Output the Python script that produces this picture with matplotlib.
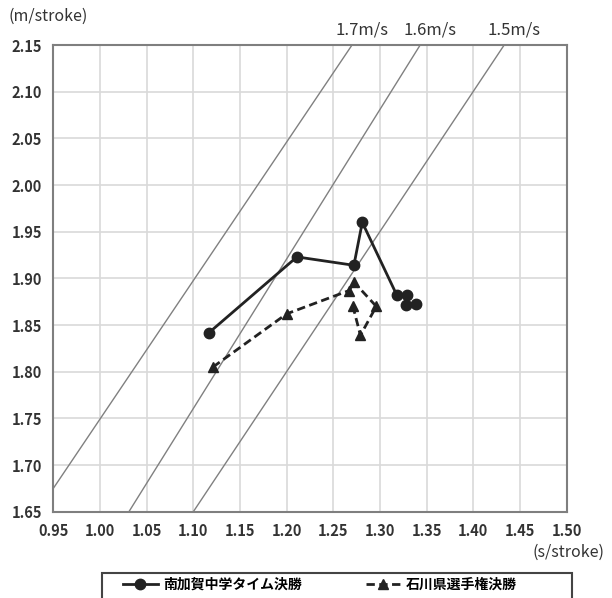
import numpy as np
import matplotlib
matplotlib.use("Agg")
import matplotlib.pyplot as plt
from matplotlib.patches import Rectangle

plt.rcParams['font.family'] = ['Noto Sans CJK JP', 'DejaVu Sans']

# stroke time (s/stroke) vs stroke length (m/stroke)
local_x = [1.117, 1.211, 1.272, 1.281, 1.318, 1.329, 1.328, 1.339]
local_y = [1.842, 1.923, 1.914, 1.960, 1.882, 1.882, 1.871, 1.873]
pref_x = [1.121, 1.200, 1.267, 1.272, 1.296, 1.279, 1.271]
pref_y = [1.805, 1.862, 1.887, 1.896, 1.870, 1.839, 1.870]

# speed reference lines (end points as drawn)
speed_labels = ['1.7m/s', '1.6m/s', '1.5m/s']
speed_x = [[0.95, 1.270], [1.031, 1.343], [1.100, 1.433]]
speed_y = [[1.675, 2.15], [1.65, 2.15], [1.65, 2.15]]

x_ticks = np.arange(0.95, 1.501, 0.05)
y_ticks = np.arange(1.65, 2.151, 0.05)

fig = plt.figure(figsize=(6.12, 5.98), dpi=100)
ax = fig.add_axes([0.0871, 0.1443, 0.8389, 0.7804])

for sx, sy in zip(speed_x, speed_y):
    ax.plot(sx, sy, color='#808080', lw=1.0, zorder=2)
for lab, sx in zip(speed_labels, speed_x):
    ax.text(sx[1] + 0.011, 2.166, lab, fontsize=12, ha='center', va='center',
            color='#333333', clip_on=False)

ax.plot(local_x, local_y, '-', color='#222222', lw=2, marker='o', ms=7.5,
        label='南加賀中学タイム決勝', zorder=4)
ax.plot(pref_x, pref_y, '--', color='#222222', lw=2, marker='^', ms=7.5,
        dashes=(3, 1.6), label='石川県選手権決勝', zorder=4)

ax.set_xlim(0.95, 1.50)
ax.set_ylim(1.65, 2.15)
ax.set_xticks(x_ticks)
ax.set_yticks(y_ticks)
ax.set_xticklabels(['%.2f' % v for v in x_ticks], fontweight='bold', fontsize=10.5,
                   color='#333333')
ax.set_yticklabels(['%.2f' % v for v in y_ticks], fontweight='bold', fontsize=10.5,
                   color='#333333')
ax.tick_params(length=0, pad=8)
ax.grid(color='#d9d9d9', lw=1.2)
ax.set_axisbelow(True)
for s in ax.spines.values():
    s.set_color('#7f7f7f')
    s.set_linewidth(1.5)

fig.text(8 / 612, 1 - 16 / 598, '(m/stroke)', fontsize=11.5, va='center',
         color='#333333')
fig.text(605 / 612, 1 - 552 / 598, '(s/stroke)', fontsize=11.5, va='center',
         ha='right', color='#333333')

# legend box runs off the bottom edge in the original
fig.patches.append(Rectangle((102 / 612, -0.02), 470 / 612, 1 - 573 / 598 + 0.02,
                             transform=fig.transFigure, fill=False,
                             edgecolor='#444444', lw=1.5))
fig.legend(loc='upper left', ncol=2, borderaxespad=0,
           bbox_to_anchor=(120 / 612, 1 - 575 / 598),
           frameon=False, borderpad=0.2, handlelength=2.5, handletextpad=0.4,
           columnspacing=4.6, prop={'family': 'Noto Sans CJK JP',
                                    'weight': 'bold', 'size': 10})

fig.savefig('out.png', dpi=100)
